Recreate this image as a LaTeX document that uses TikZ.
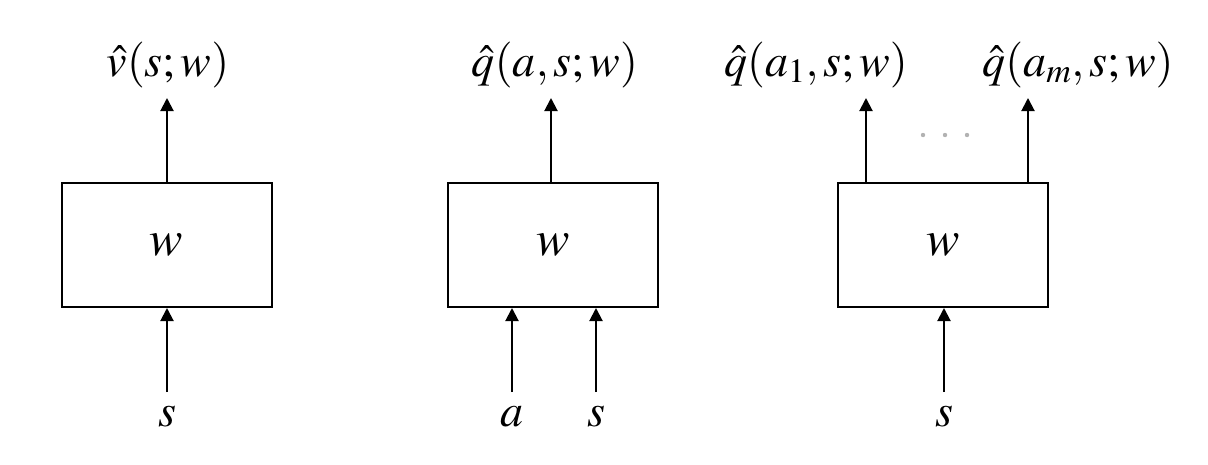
\documentclass[tikz,border=0pt]{standalone}
\usepackage{mathptmx}
\usetikzlibrary{arrows.meta,calc}
\begin{document}
\begin{tikzpicture}[x=1pt,y=-1pt,
  box/.style={draw,line width=2pt,minimum width=210pt,minimum height=124pt,inner sep=0pt,font=\fontsize{50}{60}\selectfont},
  lbl/.style={anchor=base,inner sep=0pt,font=\fontsize{46}{55}\selectfont},
  arr/.style={line width=2pt,-{Triangle[width=13pt,length=13pt]}},
  lin/.style={line width=2pt}]
\useasboundingbox (0,0) rectangle (1208,464);
% boxes
\node[box] (b1) at (166.5,245) {$w$};
\node[box] (b2) at (553,245) {$w$};
\node[box] (b3) at (943,245) {$w$};
% top labels
\node[lbl] (o1) at (168,76) {$\hat{v}(s;w)$};
\node[lbl] (o2) at (555,76) {$\hat{q}(a,s;w)$};
\node[lbl] (o3) at (816,76) {$\hat{q}(a_1,s;w)$};
\node[lbl] (o4) at (1078,76) {$\hat{q}(a_m,s;w)$};
% bottom labels
\node[lbl] (i1) at (167,426) {$s$};
\node[lbl] (i2) at (512,426) {$a$};
\node[lbl] (i3) at (596,426) {$s$};
\node[lbl] (i4) at (944,426) {$s$};
% top arrows
\coordinate (t1) at (167,98);
\coordinate (t2) at (551,98);
\coordinate (t3) at (866,98);
\coordinate (t4) at (1028,98);
\coordinate (s3) at (866,183);
\coordinate (s4) at (1028,183);
\draw[arr] (b1.north -| t1) -- (t1);
\draw[arr] (b2.north -| t2) -- (t2);
\draw[arr] (s3) -- (t3);
\draw[arr] (s4) -- (t4);
% bottom arrows
\coordinate (u1) at (167,392);
\coordinate (u2) at (512,392);
\coordinate (u3) at (596,392);
\coordinate (u4) at (944,392);
\draw[arr] (u1) -- (u1 |- b1.south);
\draw[arr] (u2) -- (u2 |- b2.south);
\draw[arr] (u3) -- (u3 |- b2.south);
\draw[arr] (u4) -- (u4 |- b3.south);
% dots
\foreach \x in {923,945,967} \fill[gray!60] (\x,135) circle (2.2pt);
\end{tikzpicture}
\end{document}
